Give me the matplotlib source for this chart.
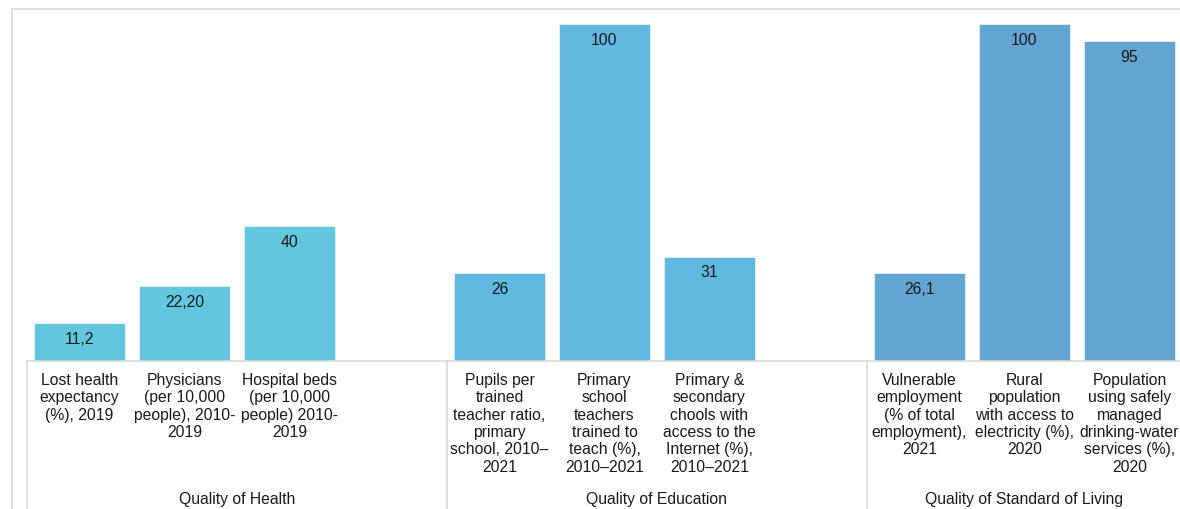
import matplotlib.pyplot as plt
from matplotlib.transforms import blended_transform_factory
from matplotlib.lines import Line2D

plt.rcParams['font.family'] = ['Liberation Sans', 'DejaVu Sans']

groups = ["Quality of Health", "Quality of Education", "Quality of Standard of Living"]
categories = [
    ["Lost health\nexpectancy\n(%), 2019",
     "Physicians\n(per 10,000\npeople), 2010-\n2019",
     "Hospital beds\n(per 10,000\npeople) 2010-\n2019"],
    ["Pupils per\ntrained\nteacher ratio,\nprimary\nschool, 2010\u2013\n2021",
     "Primary\nschool\nteachers\ntrained to\nteach (%),\n2010\u20132021",
     "Primary &\nsecondary\nchools with\naccess to the\nInternet (%),\n2010\u20132021"],
    ["Vulnerable\nemployment\n(% of total\nemployment),\n2021",
     "Rural\npopulation\nwith access to\nelectricity (%),\n2020",
     "Population\nusing safely\nmanaged\ndrinking-water\nservices (%),\n2020"],
]
values = [[11.2, 22.2, 40], [26, 100, 31], [26.1, 100, 95]]
value_labels = [["11,2", "22,20", "40"], ["26", "100", "31"], ["26,1", "100", "95"]]
colors = ["#62C6DE", "#60B8E0", "#62A5D3"]
# slots per group: a blank slot follows groups 1 and 2
group_start = [0, 4, 8]
group_slots = [4, 4, 3]

W, H = 1180, 510
fig = plt.figure(figsize=(W / 100, H / 100), dpi=100)
x0, y0, yt = 27, 362, 25
slot = 105
ax = fig.add_axes([x0 / W, (H - y0) / H, 11 * slot / W, (y0 - yt) / H])
ax.set_xlim(-0.5, 10.5)
ax.set_ylim(0, 100)
for s in ["top", "left", "right"]:
    ax.spines[s].set_visible(False)
ax.spines["bottom"].set_color("#D9D9D9")
ax.spines["bottom"].set_linewidth(1.2)
ax.set_xticks([])
ax.set_yticks([])

below = (y0 - H) / (y0 - yt)  # axes fraction of image bottom
trans = blended_transform_factory(ax.transData, ax.transAxes)
fs = 11.3
tc = "#1a1a1a"

for g in range(3):
    for i in range(3):
        pos = group_start[g] + i
        v = values[g][i]
        ax.bar(pos, v, width=0.875, color=colors[g], edgecolor="#E8F4FA", linewidth=0.6)
        ax.annotate(value_labels[g][i], (pos, v), xytext=(0, -11), textcoords="offset points",
                    ha="center", va="center", fontsize=fs, color=tc)
        ax.annotate(categories[g][i], (pos, 0), xytext=(0, -8), textcoords="offset points",
                    ha="center", va="top", fontsize=fs, color=tc, linespacing=1.19,
                    annotation_clip=False)
    xc = group_start[g] - 0.5 + group_slots[g] / 2
    ax.text(xc, (y0 - 500) / (y0 - yt), groups[g], transform=trans,
            ha="center", va="center", fontsize=fs, color=tc)
    ax.plot([group_start[g] - 0.5] * 2, [0, below], transform=trans, color="#D9D9D9",
            lw=1.2, clip_on=False)

# outer chart frame
fig.add_artist(Line2D([12 / W, 1], [1 - 10 / H, 1 - 10 / H], color="#D9D9D9", lw=1.2))
fig.add_artist(Line2D([12 / W, 12 / W], [0, 1 - 10 / H], color="#D9D9D9", lw=1.2))

fig.savefig("out.png", dpi=100, facecolor="white")
